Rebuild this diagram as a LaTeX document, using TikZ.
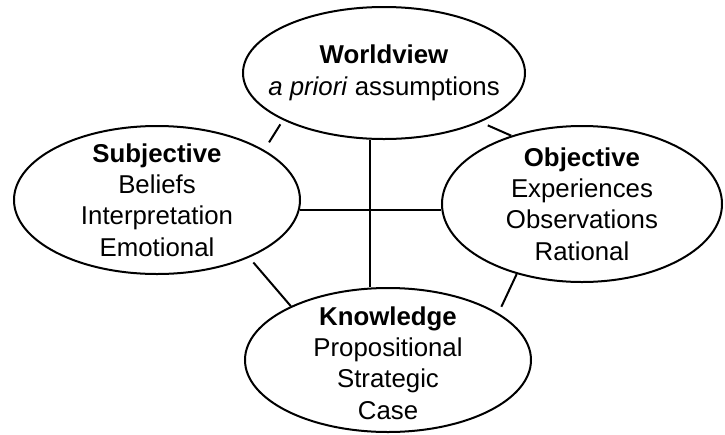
\documentclass[tikz,border=0pt]{standalone}
\usepackage{fontspec}
\setmainfont{Liberation Sans}
\usetikzlibrary{shapes.geometric}

\tikzset{
  bubble/.style={draw, ellipse, line width=1pt, inner sep=0pt},
  bubbletext/.style={align=center, inner sep=0pt, font=\fontsize{12.9}{15.7}\selectfont},
  link/.style={line width=1pt}
}

\begin{document}
\begin{tikzpicture}[x=0.5pt, y=-0.5pt]
                % Frame
                \useasboundingbox (0,0) rectangle (725,435);

                % Ellipses
                \node [bubble, minimum width=141pt, minimum height=66pt] (wv) at (384,73) {};
                \node [bubble, minimum width=143pt, minimum height=74pt] (sub) at (157,200) {};
                \node [bubble, minimum width=140pt, minimum height=78pt] (obj) at (582,204) {};
                \node [bubble, minimum width=143pt, minimum height=72pt] (kn) at (388,360) {};

                % Texts
                \node [bubbletext] (wvtext) at (wv.center) {\textbf{Worldview}\\\textit{a priori} assumptions};
                \node [bubbletext] (subtext) at (sub.center) {\textbf{Subjective}\\Beliefs\\Interpretation\\Emotional};
                \node [bubbletext] (objtext) at (obj.center) {\textbf{Objective}\\Experiences\\Observations\\Rational};
                \node [bubbletext, yshift=-1.5pt] (kntext) at (kn.center) {\textbf{Knowledge}\\Propositional\\Strategic\\Case};

                % Links
                \draw [link, shorten <=2.5pt, shorten >=4.5pt] (wv.205) -- (sub.25);
                \draw [link, shorten <=4pt] (wv.333) -- (obj.136);
                \draw [link] (sub.-4) -- (sub.-4 -| obj.west);
                \draw [link] (wv.258) -- (wv.258 |- kn.north);
                \draw [link, shorten <=3.2pt] (sub.-32) -- (kn.151);
                \draw [link, shorten >=3.5pt] (obj.227) -- (kn.23);
\end{tikzpicture}
\end{document}
